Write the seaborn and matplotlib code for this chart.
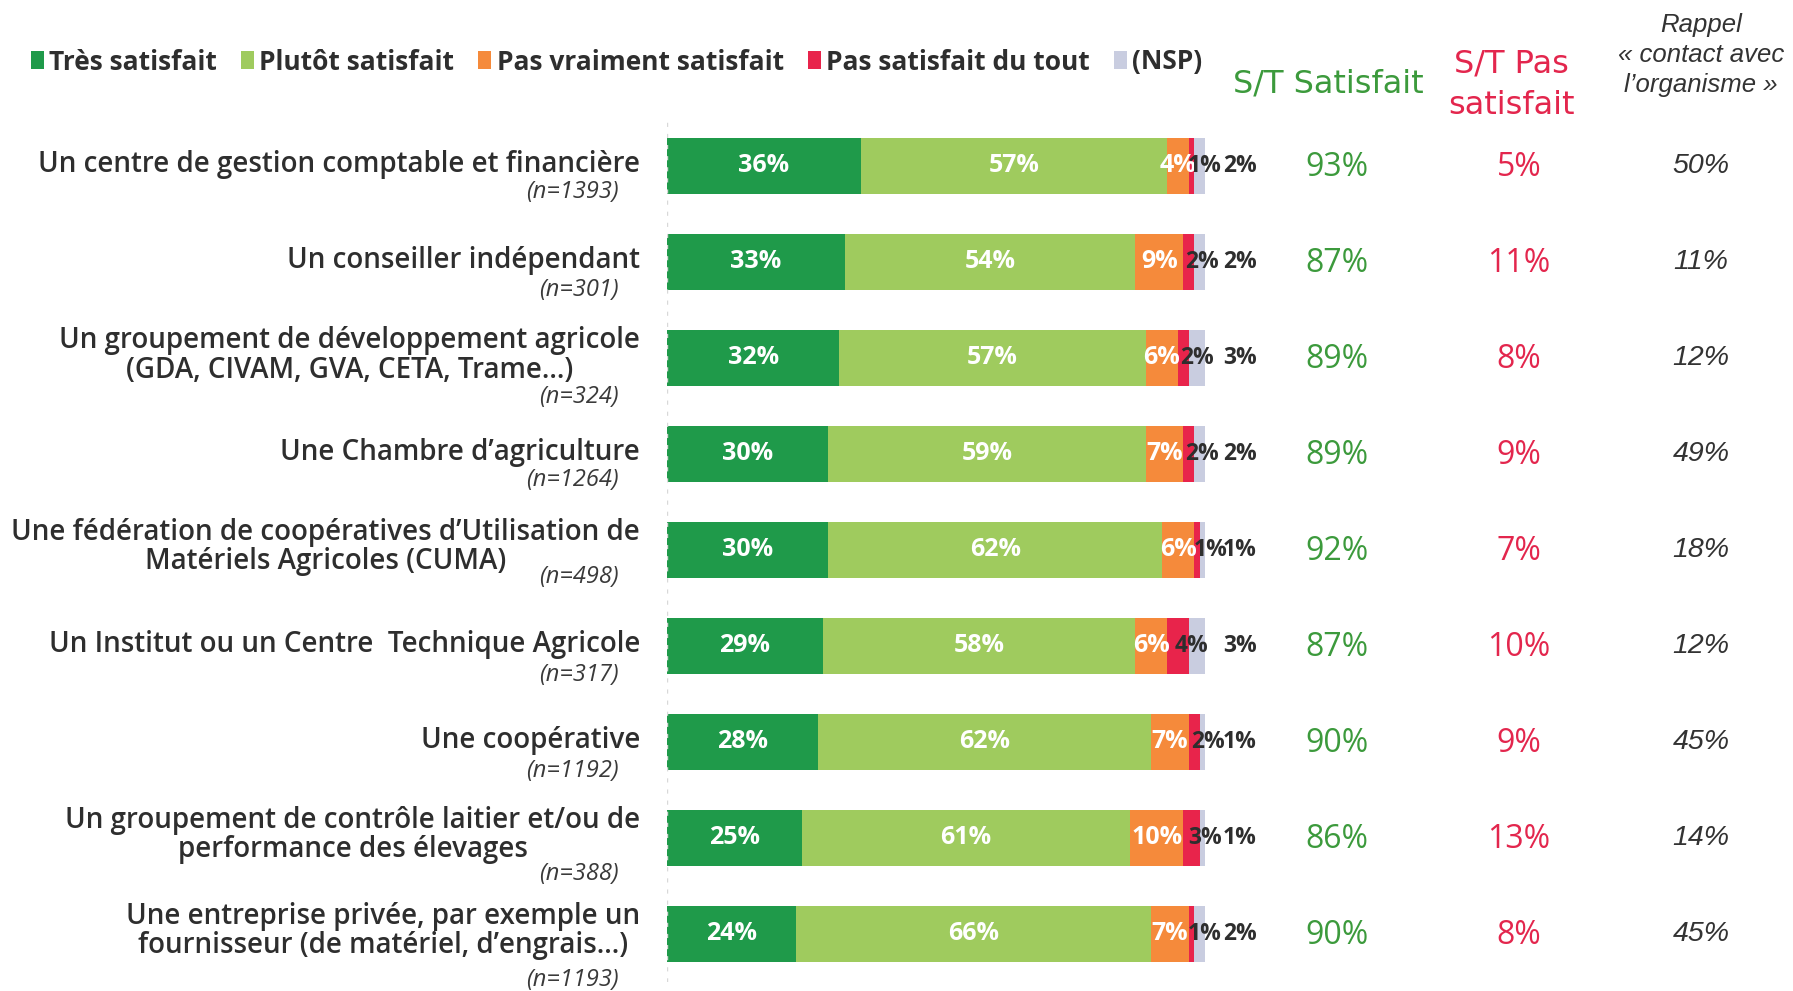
import matplotlib
matplotlib.use("Agg")
import numpy as np
import pandas as pd
import seaborn as sns
import matplotlib.pyplot as plt
from matplotlib.patches import Patch
from matplotlib.transforms import blended_transform_factory

# ---------------- data ----------------
categories = [
    "Un centre de gestion comptable et financière",
    "Un conseiller indépendant",
    "Un groupement de développement agricole\n(GDA, CIVAM, GVA, CETA, Trame…)",
    "Une Chambre d’agriculture",
    "Une fédération de coopératives d’Utilisation de\nMatériels Agricoles (CUMA)",
    "Un Institut ou un Centre  Technique Agricole",
    "Une coopérative",
    "Un groupement de contrôle laitier et/ou de\nperformance des élevages",
    "Une entreprise privée, par exemple un\nfournisseur (de matériel, d’engrais…)",
]
n_labels = ["(n=1393)", "(n=301)", "(n=324)", "(n=1264)", "(n=498)",
            "(n=317)", "(n=1192)", "(n=388)", "(n=1193)"]
series_names = ["Très satisfait", "Plutôt satisfait", "Pas vraiment satisfait",
                "Pas satisfait du tout", "(NSP)"]
tres_satisfait = [36, 33, 32, 30, 30, 29, 28, 25, 24]
plutot_satisfait = [57, 54, 57, 59, 62, 58, 62, 61, 66]
pas_vraiment = [4, 9, 6, 7, 6, 6, 7, 10, 7]
pas_du_tout = [1, 2, 2, 2, 1, 4, 2, 3, 1]
nsp = [2, 2, 3, 2, 1, 3, 1, 1, 2]
st_satisfait = [93, 87, 89, 89, 92, 87, 90, 86, 90]
st_pas_satisfait = [5, 11, 8, 9, 7, 10, 9, 13, 8]
rappel_contact = [50, 11, 12, 49, 18, 12, 45, 14, 45]

# ---------------- layout / style ----------------
n_offsets = [0.27, 0.29, 0.41, 0.27, 0.28, 0.30, 0.30, 0.38, 0.48]
colors = ["#1f9a4a", "#9fcb5e", "#f58a3b", "#e8244b", "#c9cde0"]
green_txt = "#3c9a3c"
red_txt = "#e3264d"
dark = "#2e2e2e"

sns.set_theme(style="white")
plt.rcParams["font.family"] = ["Open Sans", "DejaVu Sans"]

W, H = 1793, 991
fig = plt.figure(figsize=(W / 100, H / 100), dpi=100)
ax = fig.add_axes([667 / W, 1 - 982 / H, 538 / W, 864 / H])

df = pd.DataFrame({"cat": categories})
stack = np.vstack([tres_satisfait, plutot_satisfait, pas_vraiment, pas_du_tout, nsp]).astype(float)
cum = np.cumsum(stack, axis=0)
for i in reversed(range(5)):
    df["v"] = cum[i]
    sns.barplot(data=df, x="v", y="cat", orient="h", color=colors[i],
                saturation=1, width=0.59, linewidth=0, ax=ax, errorbar=None)

ax.set_xlim(0, 100)
ax.set_ylim(8.5, -0.5)
ax.set_axis_off()
ax.axvline(0, color="#d8d8d8", lw=1, ls=(0, (3, 5)), ymin=0, ymax=1)

# value labels inside bars
for r in range(len(categories)):
    t, p, v, d, n = stack[:, r]
    kw = dict(va="center", ha="center", fontsize=18, fontweight="bold")
    small = dict(va="center", ha="center", fontsize=16.5, fontweight="bold")
    ax.text(t / 2, r, f"{int(t)}%", color="white", **kw)
    ax.text(t + p / 2, r, f"{int(p)}%", color="white", **kw)
    ax.text(t + p + v / 2, r, f"{int(v)}%", color="white", **kw)
    ax.text(cum[3, r] - d / 2 + 2.5, r, f"{int(d)}%", color=dark, clip_on=False, **small)
    ax.text(106.5, r, f"{int(n)}%", color=dark, clip_on=False, **small)

# category labels, n labels and side columns
tr = blended_transform_factory(fig.transFigure, ax.transData)
renderer = fig.canvas.get_renderer()
label_kw = dict(transform=tr, va="center", fontsize=20, fontweight="semibold",
                color=dark, clip_on=False)
right_edge = 640 / W
for r, (lab, nl) in enumerate(zip(categories, n_labels)):
    lines = lab.split("\n")
    if len(lines) == 1:
        ax.text(right_edge, r - 0.015, lab, ha="right", **label_kw)
    else:
        y0 = r - 0.03
        ys = [y0 - 0.155, y0 + 0.155]
        widths = []
        for ln in lines:
            tmp = ax.text(0, 0, ln, **label_kw)
            widths.append(tmp.get_window_extent(renderer).width / W)
            tmp.remove()
        block_w = max(widths)
        xc = right_edge - block_w / 2
        for ln, yy in zip(lines, ys):
            ax.text(xc, yy, ln, ha="center", **label_kw)
    ax.text(619 / W, r + n_offsets[r], nl, transform=tr, ha="right", va="center",
            fontsize=17, style="italic", color="#3a3a3a", clip_on=False)
    ax.text(1337 / W, r + 0.02, f"{st_satisfait[r]}%", transform=tr, ha="center",
            va="center", fontsize=23, color=green_txt, clip_on=False)
    ax.text(1519 / W, r + 0.02, f"{st_pas_satisfait[r]}%", transform=tr, ha="center",
            va="center", fontsize=23, color=red_txt, clip_on=False)
    ax.text(1701 / W, r, f"{rappel_contact[r]}%", transform=tr, ha="center",
            va="center", fontsize=20.5, style="italic", color="#333333",
            family=["Liberation Sans", "DejaVu Sans"], clip_on=False)

# headers
fig.text(1328 / W, 1 - 84 / H, "S/T Satisfait", ha="center", va="center",
         fontsize=23, color=green_txt, family=["DejaVu Sans"])
fig.text(1511 / W, 1 - 85 / H, "S/T Pas\nsatisfait", ha="center", va="center",
         fontsize=23, color=red_txt, linespacing=1.45, family=["DejaVu Sans"])
fig.text(1701 / W, 1 - 55 / H, "Rappel\n« contact avec\nl’organisme »", ha="center",
         va="center", fontsize=18.5, style="italic", color="#333333", linespacing=1.32,
         family=["Liberation Sans", "DejaVu Sans"])

# legend
handles = [Patch(facecolor=c, edgecolor="none") for c in colors]
leg = fig.legend(handles, series_names, loc="center left", bbox_to_anchor=(0.004, 1 - 62 / H),
                 ncol=5, frameon=False, handlelength=0.5, handleheight=0.65,
                 handletextpad=0.2, columnspacing=0.9,
                 prop=dict(weight="bold", size=19))
for t in leg.get_texts():
    t.set_color(dark)

fig.savefig("out.png", dpi=100)
